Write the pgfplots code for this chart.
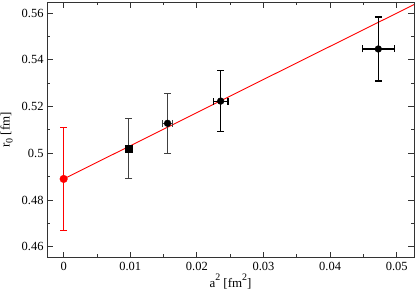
\documentclass[border=0pt]{standalone}
\usepackage{pgfplots}
\pgfplotsset{compat=1.18}
\usepackage{fontspec}
\setmainfont{Liberation Serif}
\newcommand{\sq}{\raisebox{7.5bp}{\fontsize{10}{12}\selectfont 2}}
\begin{document}
\begin{tikzpicture}
\begin{axis}[
  at={(0,0)}, anchor=south west,
  scale only axis, width=367bp, height=255.7bp,
  xmin=-0.0025, xmax=0.0526, ymin=0.4553, ymax=0.5647,
  scaled ticks=false,
  xtick={0,0.01,0.02,0.03,0.04,0.05},
  xticklabels={0,0.01,0.02,0.03,0.04,0.05},
  ytick={0.46,0.48,0.50,0.52,0.54,0.56},
  yticklabels={0.46,0.48,0.5,0.52,0.54,0.56},
  minor x tick num=1, minor y tick num=1,
  tick align=inside, xtick pos=both, ytick pos=both,
  major tick length=6bp, minor tick length=3.5bp,
  every tick/.style={black!80, line width=0.8bp},
  axis line style={black!80, line width=0.8bp},
  tick label style={font=\fontsize{12.5}{14}\selectfont},
  label style={font=\fontsize{13}{15}\selectfont},
  xlabel={a\sq\ [fm\sq]},
  ylabel={r\raisebox{-3bp}{\fontsize{10}{12}\selectfont 0} [fm]},
  xlabel style={yshift=4bp},
  ylabel style={yshift=2bp},
  xticklabel style={yshift=-1bp},
]
\addplot[red, line width=0.9bp, no marks] coordinates {(0,0.4890) (0.0526,0.5636)};
\addplot[red, only marks, mark=*, mark size=3.8bp,
  error bars/.cd, y dir=both, y explicit,
  error bar style={red, line width=1.1bp},
  error mark options={rotate=90, red, mark size=3.5bp, line width=1.1bp}]
  coordinates {(0,0.489) +- (0,0.022)};
\addplot[black, only marks, mark=square*, mark size=3.5bp,
  error bars/.cd, y dir=both, y explicit,
  error bar style={black!75, line width=1.1bp},
  error mark options={rotate=90, black!75, mark size=3.5bp, line width=1.1bp}]
  coordinates {(0.0098,0.502) +- (0,0.0127)};
\addplot[black, only marks, mark=*, mark size=3.4bp,
  error bars/.cd, y dir=both, y explicit, x dir=both, x explicit,
  error bar style={black!75, line width=1.1bp},
  error mark options={rotate=90, black!75, mark size=3.5bp, line width=1.1bp}]
  coordinates {(0.0156,0.5128) +- (0.0008,0.0128)};
\addplot[black, only marks, mark=*, mark size=3.4bp,
  error bars/.cd, y dir=both, y explicit, x dir=both, x explicit,
  error bar style={black, line width=1.1bp},
  error mark options={rotate=90, black, mark size=3.5bp, line width=1.1bp}]
  coordinates {(0.02357,0.5223) +- (0.0011,0.0131) (0.04724,0.5446) +- (0.0024,0.0137)};
\end{axis}
\pgfresetboundingbox
\path (-47bp,-37.3bp) rectangle (368bp,257.7bp);
\end{tikzpicture}
\end{document}
